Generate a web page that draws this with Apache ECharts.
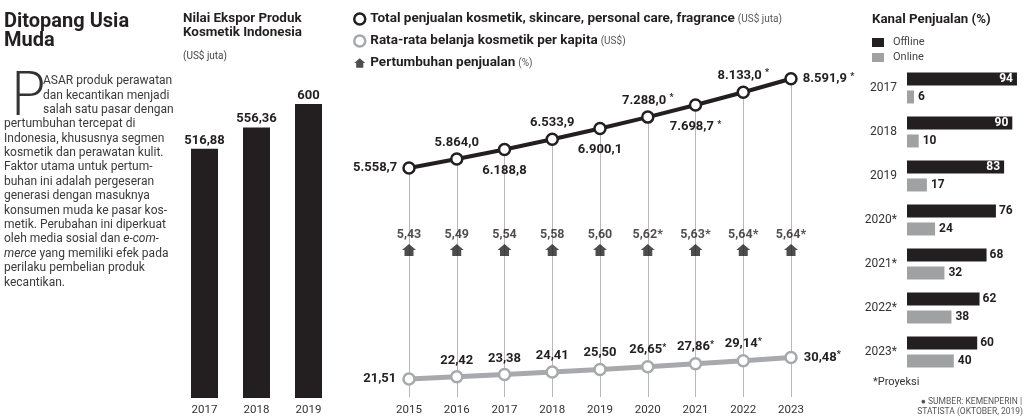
<!DOCTYPE html>
<html><head><meta charset="utf-8">
<script src="https://cdn.jsdelivr.net/npm/echarts@6/dist/echarts.min.js"></script>
<style>html,body{margin:0;padding:0;background:#fff;}#c{width:1024px;height:416px;}</style>
</head><body><div id="c"></div>
<script>
// ---------- data ----------
const exportYears = ['2017', '2018', '2019'];
const exportValues = [516.88, 556.36, 600];

const salesYears = ['2015', '2016', '2017', '2018', '2019', '2020', '2021', '2022', '2023'];
const totalSales = [5558.7, 5864.0, 6188.8, 6533.9, 6900.1, 7288.0, 7698.7, 8133.0, 8591.9];
const perCapita = [21.51, 22.42, 23.38, 24.41, 25.50, 26.65, 27.86, 29.14, 30.48];
const salesGrowth = [5.43, 5.49, 5.54, 5.58, 5.60, 5.62, 5.63, 5.64, 5.64];

const channelYears = ['2017', '2018', '2019', '2020', '2021', '2022', '2023'];
const offlineShare = [94, 90, 83, 76, 68, 62, 60];
const onlineShare = [6, 10, 17, 24, 32, 38, 40];

const projectionStart = 2020;

// ---------- helpers ----------
const FONT = 'Roboto, "Open Sans", sans-serif';
const DARK = '#231f20';
const GRAY_LINE = '#a7a9ac';
const GRAY_BAR = '#a0a1a3';
const TEXT = '#3a3a3a';
const isProj = y => Number(y) >= projectionStart;
function fmt(v, dec) {
  const parts = v.toFixed(dec).split('.');
  const intStr = parts[0].replace(/\B(?=(\d{3})+(?!\d))/g, '.');
  return parts[1] ? intStr + ',' + parts[1] : intStr;
}
const NAME_TOTAL = 'Total penjualan kosmetik, skincare, personal care, fragrance';
const NAME_PC = 'Rata-rata belanja kosmetik per kapita';
const NAME_GROWTH = 'Pertumbuhan penjualan';
const units = {};
units[NAME_TOTAL] = '(US$ juta)';
units[NAME_PC] = '(US$)';
units[NAME_GROWTH] = '(%)';
const HOUSE = 'path://M7,0 L14,6 L11.5,6 L11.5,12 L2.5,12 L2.5,6 L0,6 Z';

const TOTAL_MIN = -2230, TOTAL_MAX = 9230;
const PC_MIN = 14, PC_MAX = 154.5;
const INSIDE_LABEL_FROM = 80;

const lastIdx = salesYears.length - 1;
const totalData = totalSales.map((v, i) => {
  const pos = i === 0 ? 'left' : i === lastIdx ? 'right' : (i % 2 === 1 ? 'top' : 'bottom');
  const dist = pos === 'bottom' ? 8 : pos === 'top' ? 3 : 5;
  return { value: v, label: { position: pos, distance: dist } };
});
const pcData = perCapita.map((v, i) => {
  const pos = i === 0 ? 'left' : i === lastIdx ? 'right' : 'top';
  return { value: v, label: { position: pos, distance: pos === 'top' ? 3 : 6 } };
});
const offlineData = offlineShare.map(v => v >= INSIDE_LABEL_FROM
  ? { value: v, label: { position: 'insideRight', color: '#fff', distance: 4 } }
  : { value: v });

const starRich = { s: { fontSize: 9, fontWeight: 'bold', padding: [0, 0, 5, 0], color: DARK, fontFamily: FONT } };

const bodyIndent = [
  'ASAR produk perawatan',
  'dan kecantikan menjadi',
  'salah satu pasar dengan'
];
const bodyRest = [
  'pertumbuhan tercepat di',
  'Indonesia, khususnya segmen',
  'kosmetik dan perawatan kulit.',
  'Faktor utama untuk pertum-',
  'buhan ini adalah pergeseran',
  'generasi dengan masuknya',
  'konsumen muda ke pasar kos-',
  'metik. Perubahan ini diperkuat',
  'oleh media sosial dan {i|e-com-}',
  '{i|merce} yang memiliki efek pada',
  'perilaku pembelian produk',
  'kecantikan.'
];
const BODY_SIZE = 12;

const chart = echarts.init(document.getElementById('c'), null, { renderer: 'canvas' });
chart.setOption({
  animation: false,
  backgroundColor: '#fff',
  textStyle: { fontFamily: FONT },
  title: [
    { text: 'Ditopang Usia\nMuda', left: 4, top: 12, padding: 0,
      textStyle: { fontFamily: FONT, fontWeight: 'bold', fontSize: 20, lineHeight: 19, color: DARK } },
    { text: 'Nilai Ekspor Produk\nKosmetik Indonesia', left: 183, top: 12, padding: 0,
      textStyle: { fontFamily: FONT, fontWeight: 'bold', fontSize: 13.4, lineHeight: 14, color: DARK },
      subtext: '(US$ juta)', itemGap: 11,
      subtextStyle: { fontFamily: FONT, fontSize: 10, color: '#444' } },
    { text: 'Kanal Penjualan (%)', left: 872, top: 13, padding: 0,
      textStyle: { fontFamily: FONT, fontWeight: 'bold', fontSize: 13.3, color: DARK } }
  ],
  legend: [
    { orient: 'vertical', left: 353, top: 12, itemWidth: 11, itemHeight: 11, itemGap: 8,
      selectedMode: false, padding: 0,
      data: [
        { name: NAME_TOTAL, icon: 'circle', itemStyle: { color: '#fff', borderColor: DARK, borderWidth: 2.5 } },
        { name: NAME_PC, icon: 'circle', itemStyle: { color: '#fff', borderColor: GRAY_LINE, borderWidth: 2.5 } },
        { name: NAME_GROWTH, icon: HOUSE, itemStyle: { color: DARK, borderWidth: 0 } }
      ],
      formatter: name => '{b|' + name + '} {u|' + units[name] + '}',
      textStyle: { rich: {
        b: { fontFamily: FONT, fontWeight: 'bold', fontSize: 13.5, color: DARK },
        u: { fontFamily: FONT, fontSize: 10, color: '#555' } } } },
    { orient: 'vertical', left: 872, top: 37, itemWidth: 12, itemHeight: 9, itemGap: 4,
      selectedMode: false, padding: 0,
      data: [
        { name: 'Offline', icon: 'rect', itemStyle: { color: DARK, borderWidth: 0 } },
        { name: 'Online', icon: 'rect', itemStyle: { color: GRAY_BAR, borderWidth: 0 } }
      ],
      textStyle: { fontFamily: FONT, fontSize: 11, color: '#444', padding: [0, 0, 0, 4] } }
  ],
  grid: [
    { left: 178.5, width: 156, top: 104, height: 298 },
    { left: 409, width: 382, top: 60, height: 340 },
    { left: 409, width: 382, top: 243, height: 14 },
    { left: 907, width: 124, top: 66, height: 308 }
  ],
  xAxis: [
    { gridIndex: 0, type: 'category', data: exportYears, axisLine: { show: false }, axisTick: { show: false },
      axisLabel: { margin: 6, fontSize: 11.5, color: '#333', fontFamily: FONT } },
    { gridIndex: 1, type: 'category', data: salesYears, boundaryGap: false, axisLine: { show: false }, axisTick: { show: false },
      axisLabel: { margin: 7, fontSize: 11.5, color: '#333', fontFamily: FONT } },
    { gridIndex: 2, type: 'category', data: salesYears, boundaryGap: false, show: false },
    { gridIndex: 3, type: 'value', min: 0, max: 100, show: false }
  ],
  yAxis: [
    { gridIndex: 0, type: 'value', min: 54, max: 600, show: false },
    { gridIndex: 1, type: 'value', min: TOTAL_MIN, max: TOTAL_MAX, show: false },
    { gridIndex: 1, type: 'value', min: PC_MIN, max: PC_MAX, show: false },
    { gridIndex: 2, type: 'category', data: ['Pertumbuhan'], show: false },
    { gridIndex: 3, type: 'category', data: channelYears, inverse: true,
      axisLine: { show: false }, axisTick: { show: false },
      axisLabel: { margin: 10, fontSize: 12, color: '#333', fontFamily: FONT,
        formatter: v => isProj(v) ? v + '*' : v } }
  ],
  series: [
    { type: 'bar', name: 'Ekspor', xAxisIndex: 0, yAxisIndex: 0, data: exportValues, barWidth: 27,
      itemStyle: { color: DARK },
      label: { show: true, position: 'top', distance: 2, fontFamily: FONT, fontWeight: 'bold', fontSize: 13, color: DARK,
        formatter: p => fmt(p.value, Number.isInteger(p.value) ? 0 : 2) } },
    { type: 'line', name: NAME_TOTAL, xAxisIndex: 1, yAxisIndex: 1, data: totalData, z: 4,
      lineStyle: { color: DARK, width: 4 }, symbol: 'circle', symbolSize: 11,
      itemStyle: { color: '#fff', borderColor: DARK, borderWidth: 2.5 },
      label: { show: true, fontFamily: FONT, fontWeight: 'bold', fontSize: 13, color: DARK, rich: starRich,
        formatter: p => fmt(p.value, 1) + (isProj(p.name) ? ' {s|*}' : '') },
      markLine: { silent: true, z: 1, symbol: ['none', 'none'], label: { show: false },
        lineStyle: { color: '#b8b8b8', width: 1, type: 'solid' }, emphasis: { disabled: true },
        data: totalSales.map((v, i) => [{ coord: [i, v] }, { coord: [i, TOTAL_MIN] }]) } },
    { type: 'line', name: NAME_PC, xAxisIndex: 1, yAxisIndex: 2, data: pcData, z: 3,
      lineStyle: { color: GRAY_LINE, width: 5 }, symbol: 'circle', symbolSize: 11,
      itemStyle: { color: '#fff', borderColor: GRAY_LINE, borderWidth: 2.5 },
      label: { show: true, fontFamily: FONT, fontWeight: 'bold', fontSize: 13, color: DARK, rich: starRich,
        formatter: p => fmt(p.value, 2) + (isProj(p.name) ? '{s|*}' : '') } },
    { type: 'scatter', name: NAME_GROWTH, xAxisIndex: 2, yAxisIndex: 3, z: 5,
      data: salesGrowth.map((v, i) => [i, 0, v]),
      symbol: HOUSE, symbolSize: [14, 12], itemStyle: { color: DARK },
      label: { show: true, position: 'top', distance: 3, fontFamily: FONT, fontWeight: 'bold', fontSize: 12.5, color: DARK,
        formatter: p => fmt(p.value[2], 2) + (isProj(salesYears[p.value[0]]) ? '*' : '') } },
    { type: 'bar', name: 'Offline', xAxisIndex: 3, yAxisIndex: 4, data: offlineData, barWidth: 13, barGap: '38%',
      itemStyle: { color: DARK },
      label: { show: true, fontFamily: FONT, fontWeight: 'bold', fontSize: 12, color: DARK, position: 'right', distance: 3,
        formatter: p => p.value } },
    { type: 'bar', name: 'Online', xAxisIndex: 3, yAxisIndex: 4, data: onlineShare, barWidth: 13, barGap: '38%',
      itemStyle: { color: GRAY_BAR },
      label: { show: true, fontFamily: FONT, fontWeight: 'bold', fontSize: 12, color: DARK, position: 'right', distance: 4,
        formatter: p => p.value } }
  ],
  graphic: [
    { type: 'text', x: 9, y: 69, scaleX: 1.3, scaleY: 1.25,
      style: { text: 'P', fontFamily: '"DejaVu Sans", sans-serif', fontWeight: 200, fontSize: 48, fill: '#333' } },
    { type: 'text', left: 43, top: 74, style: { text: bodyIndent.join('\n'), fontFamily: FONT, fontSize: BODY_SIZE, lineHeight: 14.4, fill: TEXT } },
    { type: 'text', left: 4, top: 117, style: { text: bodyRest.join('\n'), fontFamily: FONT, fontSize: BODY_SIZE, lineHeight: 14.4, fill: TEXT,
        rich: { i: { fontStyle: 'italic', fontFamily: FONT, fontSize: BODY_SIZE, fill: TEXT } } } },
    { type: 'text', left: 873, top: 377, style: { text: '*Proyeksi', fontFamily: FONT, fontSize: 11, fill: '#333' } },
    { type: 'text', right: 2, top: 397, style: { text: '\u25CF SUMBER: KEMENPERIN |', fontFamily: FONT, fontSize: 8.5, fill: '#555', align: 'right' } },
    { type: 'text', right: 1, top: 407, style: { text: 'STATISTA (OKTOBER, 2019)', fontFamily: FONT, fontSize: 8.5, fill: '#555', align: 'right' } }
  ]
});
</script></body></html>
